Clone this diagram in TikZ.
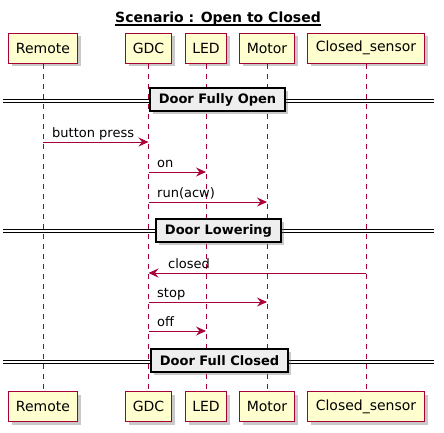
\documentclass[tikz,border=0pt]{standalone}
\usepackage{fontspec}
\setmainfont{DejaVu Sans}
\usetikzlibrary{shadows,arrows.meta}
\definecolor{pborder}{HTML}{A80036}
\definecolor{pfill}{HTML}{FEFECE}
\definecolor{divfill}{HTML}{EEEEEE}
\begin{document}
\begin{tikzpicture}[x=1pt,y=-1pt,
  part/.style={draw=pborder, fill=pfill, line width=1pt, minimum height=30pt,
    inner xsep=0pt, font=\fontsize{14}{16}\selectfont,
    drop shadow={shadow xshift=3pt, shadow yshift=-3pt, opacity=0.35, fill=black!60}},
  lifeline/.style={draw=pborder, line width=0.8pt, dash pattern=on 5pt off 5pt},
  msg/.style={draw=pborder, line width=1pt, -{Stealth[length=10pt,width=9pt,inset=3.5pt]}},
  lbl/.style={anchor=base west, inner sep=0pt, font=\fontsize{13}{15}\selectfont},
  divbox/.style={draw=black, fill=divfill, line width=1.5pt, minimum height=23pt,
    inner xsep=9pt, inner ysep=0pt, font=\bfseries\fontsize{13}{15}\selectfont,
    drop shadow={shadow xshift=3pt, shadow yshift=-3pt, opacity=0.35, fill=black!60}},
  divline/.style={draw=black, line width=1pt}]
\useasboundingbox (0,0) rectangle (444,432);
\fill[white] (0,0) rectangle (444,432);
% title
\node[anchor=base, inner sep=0pt, font=\bfseries\fontsize{14}{16}\selectfont] (title) at (218,22) {Scenario : Open to Closed};
\draw[line width=1.3pt] (title.west |- 0,25) -- (title.east |- 0,25);
% participants
\foreach \n/\x/\w/\t in {remote/43/69/Remote, gdc/148.5/46/GDC, led/206/41/LED, motor/267/55/Motor, cs/366/117/Closed\_sensor}{
  \node[part, minimum width=\w pt] (\n T) at (\x,48) {\t};
  \node[part, minimum width=\w pt] (\n B) at (\x,406.5) {\t};
}
\foreach \n in {remote,gdc,led,motor,cs}{
  \draw[lifeline] (\n T.south) -- (\n B.north);
}
% divider 1
\draw[divline] (3,99) -- (434,99);
\draw[divline] (3,102) -- (434,102);
\node[divbox] (d1) at (217.5,99.5) {Door Fully Open};
% messages
\draw[msg] (remoteT.south |- 0,142) -- (gdcT.south |- 0,142);
\node[lbl] (l1) at (52,137) {button press};
\draw[msg] (gdcT.south |- 0,172) -- (ledT.south |- 0,172);
\node[lbl] (l2) at (157,167) {on};
\draw[msg] (gdcT.south |- 0,202) -- (motorT.south |- 0,202);
\node[lbl] (l3) at (157,197) {run(acw)};
% divider 2
\draw[divline] (3,229.5) -- (434,229.5);
\draw[divline] (3,232.5) -- (434,232.5);
\node[divbox] (d2) at (218.5,230.5) {Door Lowering};
\draw[msg] (csT.south |- 0,273) -- (gdcT.south |- 0,273);
\node[lbl] (l4) at (168,268) {closed};
\draw[msg] (gdcT.south |- 0,302) -- (motorT.south |- 0,302);
\node[lbl] (l5) at (157,297) {stop};
\draw[msg] (gdcT.south |- 0,331) -- (ledT.south |- 0,331);
\node[lbl] (l6) at (157,326) {off};
% divider 3
\draw[divline] (3,360) -- (434,360);
\draw[divline] (3,363) -- (434,363);
\node[divbox] (d3) at (219.5,360.5) {Door Full Closed};
\end{tikzpicture}
\end{document}
